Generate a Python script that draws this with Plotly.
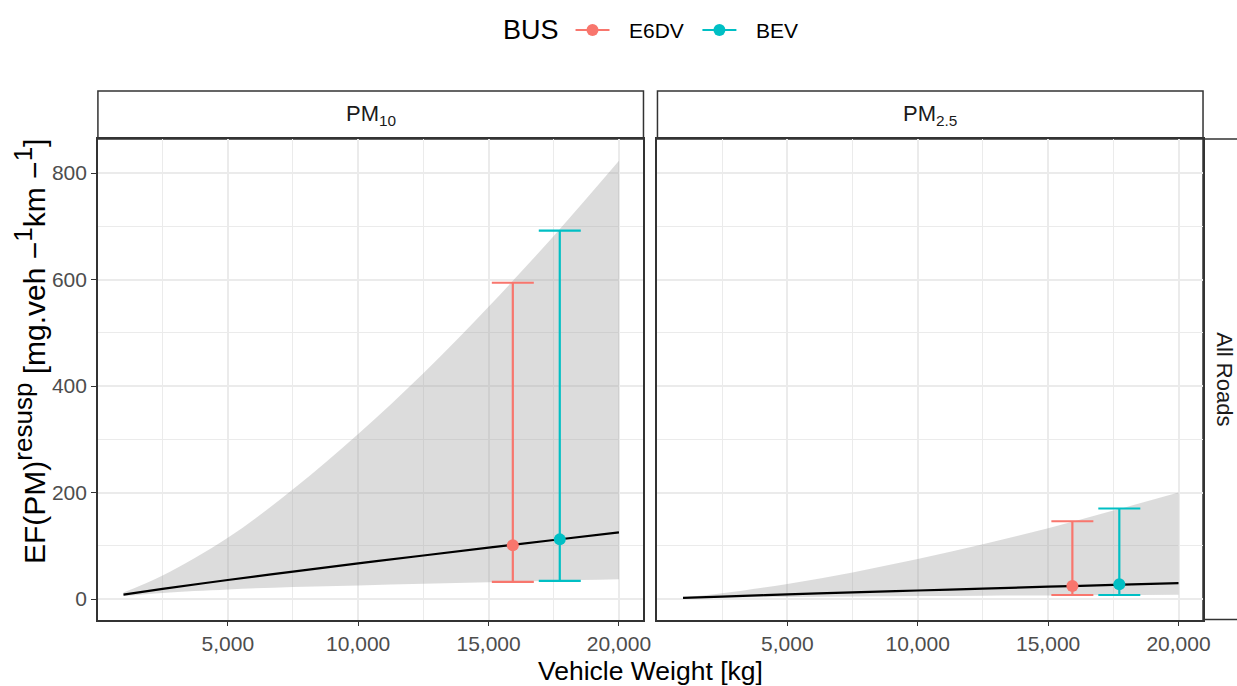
import plotly.graph_objects as go

# ---------------- data ----------------
weights = [1000, 2500, 5000, 7500, 10000, 12500, 15000, 17500, 20000]

pm10_fit = [8.3, 19.0, 35.7, 51.5, 66.8, 81.7, 96.4, 110.8, 125.0]
pm10_lo = [5.5, 11.5, 18.0, 22.5, 25.5, 28.5, 31.5, 34.5, 37.0]
pm10_hi = [12.0, 44.0, 115.0, 206.0, 310.0, 424.0, 549.0, 682.0, 823.0]

pm25_fit = [2.0, 4.6, 8.6, 12.4, 16.0, 19.6, 23.1, 26.6, 30.0]
pm25_lo = [1.2, 2.5, 3.9, 4.9, 5.5, 6.2, 6.8, 7.5, 8.0]
pm25_hi = [2.9, 10.7, 28.3, 50.0, 75.0, 103.0, 133.0, 166.0, 200.0]

buses = ["E6DV", "BEV"]
bus_colors = ["#F8766D", "#00BFC4"]
bus_weight = [15930, 17730]

pm10_ef = [101.0, 112.0]
pm10_ef_lo = [32.0, 34.0]
pm10_ef_hi = [594.0, 692.0]

pm25_ef = [24.4, 27.6]
pm25_ef_lo = [7.5, 7.5]
pm25_ef_hi = [146.0, 170.0]

x_ticks = [5000, 10000, 15000, 20000]
x_ticklabels = ["5,000", "10,000", "15,000", "20,000"]
y_ticks = [0, 200, 400, 600, 800]

# ---------------- layout geometry ----------------
W, H = 1237, 686
WX = 1231  # effective horizontal scale observed in the rendered page
FONT = "Liberation Sans, Arial, Helvetica, sans-serif"
px = lambda v: v / WX
py = lambda v: 1 - v / H

panel_top, panel_bot = 139, 619.5
left_x = (98, 644)
right_x = (658, 1204)
strip_top = 91

fig = go.Figure()

panels = [
    ("x", "y", pm10_fit, pm10_lo, pm10_hi, pm10_ef, pm10_ef_lo, pm10_ef_hi),
    ("x2", "y2", pm25_fit, pm25_lo, pm25_hi, pm25_ef, pm25_ef_lo, pm25_ef_hi),
]

for xa, ya, fit, lo, hi, ef, eflo, efhi in panels:
    fig.add_trace(go.Scatter(x=weights, y=lo, mode="lines", line=dict(width=0, shape="spline"),
                             hoverinfo="skip", showlegend=False, xaxis=xa, yaxis=ya))
    fig.add_trace(go.Scatter(x=weights, y=hi, mode="lines", line=dict(width=0, shape="spline"),
                             fill="tonexty", fillcolor="rgba(153,153,153,0.34)",
                             hoverinfo="skip", showlegend=False, xaxis=xa, yaxis=ya))
    fig.add_trace(go.Scatter(x=weights, y=fit, mode="lines", line=dict(color="black", width=2.2, shape="spline"),
                             showlegend=False, xaxis=xa, yaxis=ya))
    for i, b in enumerate(buses):
        fig.add_trace(go.Scatter(
            x=[bus_weight[i]], y=[ef[i]], mode="markers", name=b,
            marker=dict(color=bus_colors[i], size=12),
            error_y=dict(type="data", symmetric=False,
                         array=[efhi[i] - ef[i]], arrayminus=[ef[i] - eflo[i]],
                         color=bus_colors[i], thickness=2.2, width=21),
            showlegend=False, xaxis=xa, yaxis=ya))

axis_common = dict(
    showline=True, mirror=True, linecolor="#333333", linewidth=1.5,
    showgrid=True, gridcolor="#EBEBEB", gridwidth=1.6,
    zeroline=False, tickcolor="#333333", tickwidth=1.3,
    tickfont=dict(family=FONT, size=21, color="#4D4D4D"),
)
minor_x = dict(tickvals=[2500, 7500, 12500, 17500], showgrid=True,
               gridcolor="#EBEBEB", gridwidth=0.8, ticks="")
minor_y = dict(tickvals=[100, 300, 500, 700], showgrid=True,
               gridcolor="#EBEBEB", gridwidth=0.8, ticks="")

xr = [20, 20940]
yr = [-38.5, 864]

fig.update_layout(
    width=W, height=H, autosize=False,
    margin=dict(l=0, r=0, t=0, b=0, pad=0),
    paper_bgcolor="white", plot_bgcolor="white",
    showlegend=False,
    xaxis=dict(domain=[px(left_x[0]), px(left_x[1])], range=xr, anchor="y",
               tickvals=x_ticks, ticktext=x_ticklabels, ticks="outside", ticklen=5,
               minor=minor_x, **axis_common),
    xaxis2=dict(domain=[px(right_x[0]), px(right_x[1])], range=xr, anchor="y2",
                tickvals=x_ticks, ticktext=x_ticklabels, ticks="outside", ticklen=5,
                minor=minor_x, **axis_common),
    yaxis=dict(domain=[py(panel_bot), py(panel_top)], range=yr, anchor="x",
               tickvals=y_ticks, ticks="outside", ticklen=5,
               minor=minor_y, **axis_common),
    yaxis2=dict(domain=[py(panel_bot), py(panel_top)], range=yr, anchor="x2",
                matches="y", tickvals=y_ticks, showticklabels=False, ticks="",
                minor=minor_y, **axis_common),
)

shape_line = dict(color="#333333", width=1.5)
# top strips
for x0, x1 in (left_x, right_x):
    fig.add_shape(type="rect", xref="paper", yref="paper",
                  x0=px(x0), x1=px(x1), y0=py(panel_top), y1=py(strip_top),
                  line=shape_line, fillcolor="white", layer="below")
# right strip (partly cut by the page edge)
fig.add_shape(type="rect", xref="paper", yref="paper",
              x0=px(right_x[1]), x1=px(1270), y0=py(panel_bot), y1=py(panel_top),
              line=shape_line, fillcolor="white", layer="below")

ann_font = dict(family=FONT, size=22, color="#1A1A1A")
fig.add_annotation(text="PM<sub>10</sub>", xref="paper", yref="paper",
                   x=px(sum(left_x) / 2), y=py((strip_top + panel_top) / 2),
                   showarrow=False, font=ann_font, xanchor="center", yanchor="middle")
fig.add_annotation(text="PM<sub>2.5</sub>", xref="paper", yref="paper",
                   x=px(sum(right_x) / 2), y=py((strip_top + panel_top) / 2),
                   showarrow=False, font=ann_font, xanchor="center", yanchor="middle")
fig.add_annotation(text="All Roads", xref="paper", yref="paper",
                   x=px(1226), y=py((panel_top + panel_bot) / 2), textangle=90,
                   showarrow=False, font=ann_font, xanchor="center", yanchor="middle")

# ---------------- legend (drawn manually, ggplot style) ----------------
leg_y = 30
fig.add_annotation(text="BUS", xref="paper", yref="paper", x=px(501), y=py(leg_y),
                   showarrow=False, xanchor="left", yanchor="middle",
                   font=dict(family=FONT, size=27, color="black"))
key_starts = [576, 703]
for i, b in enumerate(buses):
    k0 = key_starts[i]
    fig.add_shape(type="line", xref="paper", yref="paper",
                  x0=px(k0), x1=px(k0 + 34), y0=py(leg_y), y1=py(leg_y),
                  line=dict(color=bus_colors[i], width=2.2))
    fig.add_shape(type="circle", xref="paper", yref="paper",
                  x0=px(k0 + 17 - 6), x1=px(k0 + 17 + 6),
                  y0=py(leg_y + 6), y1=py(leg_y - 6),
                  line=dict(width=0), fillcolor=bus_colors[i])
    fig.add_annotation(text=b, xref="paper", yref="paper", x=px(k0 + 52), y=py(leg_y),
                       showarrow=False, xanchor="left", yanchor="middle",
                       font=dict(family=FONT, size=21, color="black"))

fig.add_annotation(text="Vehicle Weight [kg]", xref="paper", yref="paper",
                   x=px(651), y=py(670.5), showarrow=False,
                   font=dict(family=FONT, size=26.5, color="black"),
                   xanchor="center", yanchor="middle")
sup = "<sup><span style='font-size:26px'>{}</span></sup>"
fig.add_annotation(
    text="EF(PM)" + sup.format("resusp") + " [mg.veh −" + sup.format("1") + "km −" + sup.format("1") + "]",
    xref="paper", yref="paper", x=px(30), y=py(351), textangle=-90,
    showarrow=False, font=dict(family=FONT, size=30, color="black"),
    xanchor="center", yanchor="middle")

fig.write_html(
    "out.html",
    config={"responsive": False},
    post_script="document.documentElement.style.overflow='hidden';"
                "document.body.style.margin='0';document.body.style.overflow='hidden';",
)
